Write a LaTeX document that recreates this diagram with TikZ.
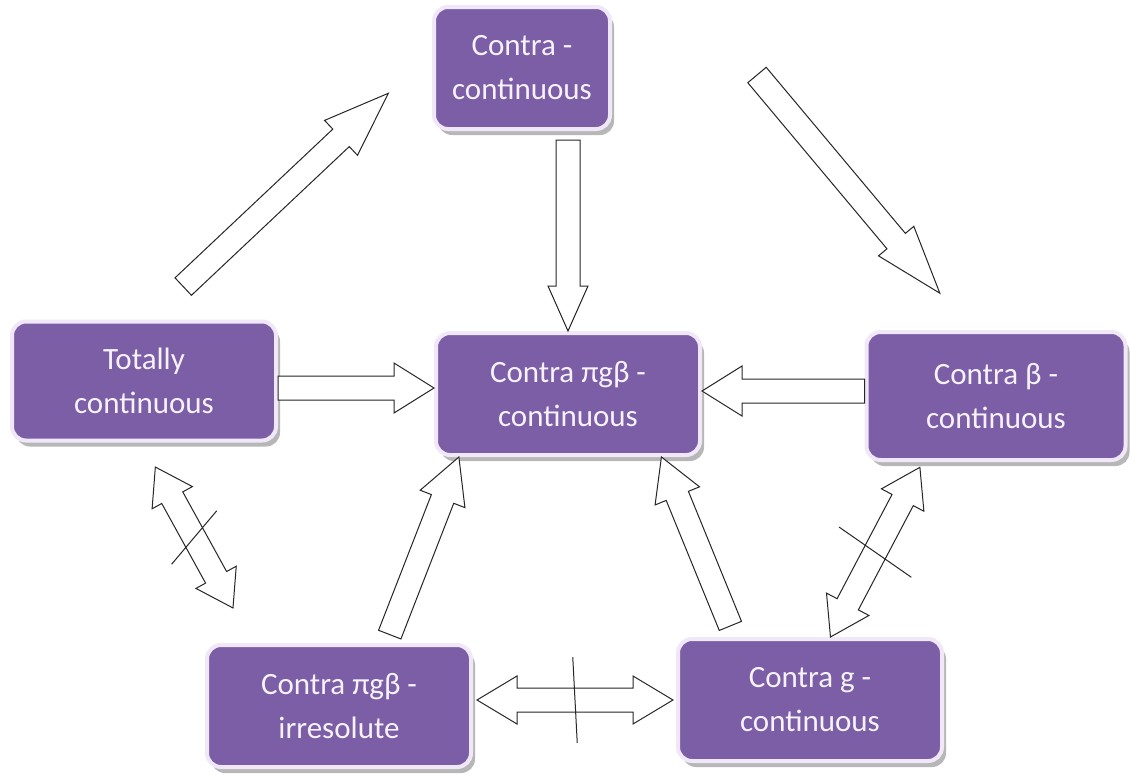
\documentclass[tikz,border=0pt]{standalone}
\usepackage{fontspec}
\setmainfont{Carlito}
\usetikzlibrary{calc,shadows,positioning}
\definecolor{boxpurple}{RGB}{123,94,166}
\definecolor{boxrim}{RGB}{240,232,248}
\definecolor{boxtext}{RGB}{246,242,251}
\newcommand{\shaftw}{12pt}
\tikzset{hlen/.store in=\hlen, hwid/.store in=\hwid,
    from gap/.store in=\fgap, to gap/.store in=\tgap,
    notang/.store in=\notang, notlen/.store in=\notlen,
    hlen=42pt, hwid=25pt, from gap=0pt, to gap=0pt, notang=90, notlen=42pt}
\tikzstyle{block} = [draw=boxrim, line width=4pt, fill=boxpurple,
    rounded corners=14pt, text=boxtext, align=center,
    minimum width=264pt, minimum height=122pt,
    font=\fontsize{31}{44}\selectfont,
    drop shadow={shadow xshift=4pt, shadow yshift=-6pt, fill=black!40, opacity=.7}]
\tikzstyle{fatline} = [draw=black!85, fill=white, line width=1pt]
\tikzstyle{fat} = [fatline, to path={
    ($(\tikztostart)!\fgap!(\tikztotarget)$) coordinate (fs)
    ($(\tikztotarget)!\tgap!(\tikztostart)$) coordinate (ft)
    ($(fs)!\shaftw!90:(ft)$) -- ($(ft)!\hlen!(fs)!\shaftw!90:(ft)$)
    -- ($(ft)!\hlen!(fs)!\hwid!90:(ft)$) -- (ft)
    -- ($(ft)!\hlen!(fs)!\hwid!-90:(ft)$) -- ($(ft)!\hlen!(fs)!\shaftw!-90:(ft)$)
    -- ($(fs)!\shaftw!-90:(ft)$) -- cycle}]
\tikzstyle{fatboth} = [fatline, to path={
    ($(\tikztostart)!\fgap!(\tikztotarget)$) coordinate (fs)
    ($(\tikztotarget)!\tgap!(\tikztostart)$) coordinate (ft)
    (fs) -- ($(fs)!\hlen!(ft)!\hwid!90:(ft)$) -- ($(fs)!\hlen!(ft)!\shaftw!90:(ft)$)
    -- ($(ft)!\hlen!(fs)!\shaftw!90:(ft)$) -- ($(ft)!\hlen!(fs)!\hwid!90:(ft)$) -- (ft)
    -- ($(ft)!\hlen!(fs)!\hwid!-90:(ft)$) -- ($(ft)!\hlen!(fs)!\shaftw!-90:(ft)$)
    -- ($(fs)!\hlen!(ft)!\shaftw!-90:(ft)$) -- ($(fs)!\hlen!(ft)!\hwid!-90:(ft)$) -- cycle
    ($(fs)!.5!(ft)!\notlen!\notang:(ft)$) -- ($(fs)!.5!(ft)!-\notlen!\notang:(ft)$)}]
\begin{document}
\begin{tikzpicture}[x=1pt, y=-1pt]
    \fill [white] (0,0) rectangle (1130,774);
    % We start by placing the blocks, the centre one first
    \node [block] (ctr) at (568,394) {Contra πgβ -\\continuous};
    \node [block, minimum width=176pt] (top) at (522,68) {Contra -\\continuous};
    \node [block, minimum height=119pt] (tot) at (144,381) {Totally\\continuous};
    \node [block, minimum width=259pt, minimum height=128pt] (cb) at (996,396) {Contra β -\\continuous};
    \node [block] (irr) at (339,706) {Contra πgβ -\\irresolute};
    \node [block] (cg) at (810,700) {Contra g -\\continuous};

    % one-way implications
    \draw [fat, hlen=65pt, hwid=24pt, from gap=48pt, to gap=60pt] (tot.86) to (top.170);
    \draw [fat, hlen=45pt, hwid=20pt, from gap=9pt] (top.south -| ctr.north) to (ctr.north);
    \draw [fat, hlen=68pt, hwid=23pt, to gap=48pt] ([xshift=145pt, yshift=-7pt]top.east) to (cb.111);
    \draw [fat, hlen=40pt] ([yshift=-7pt]tot.east) to ([yshift=6pt]ctr.west);
    \draw [fat, hlen=40pt] ([yshift=5pt]cb.west) to ([yshift=3pt]ctr.east);
    \draw [fat, hlen=45pt, hwid=24pt, from gap=9pt] (irr.53) to (ctr.210);
    \draw [fat, hlen=42pt, hwid=24pt, from gap=12pt] (cg.140) to (ctr.326);

    % the crossed ones: no implication either way
    \draw [fatboth, hlen=35pt, hwid=23pt, from gap=28pt, to gap=40pt,
        notang=111, notlen=35pt] (tot.268) to (irr.144);
    \draw [fatboth, hlen=37pt, hwid=24pt, to gap=6pt,
        notang=-97, notlen=44pt] (cg.72) to (cb.222);
    \draw [fatboth, hlen=40pt, hwid=24pt, from gap=4pt, to gap=3pt,
        notang=-87, notlen=43pt] ([yshift=6pt]irr.east) to (cg.west);
\end{tikzpicture}
\end{document}
